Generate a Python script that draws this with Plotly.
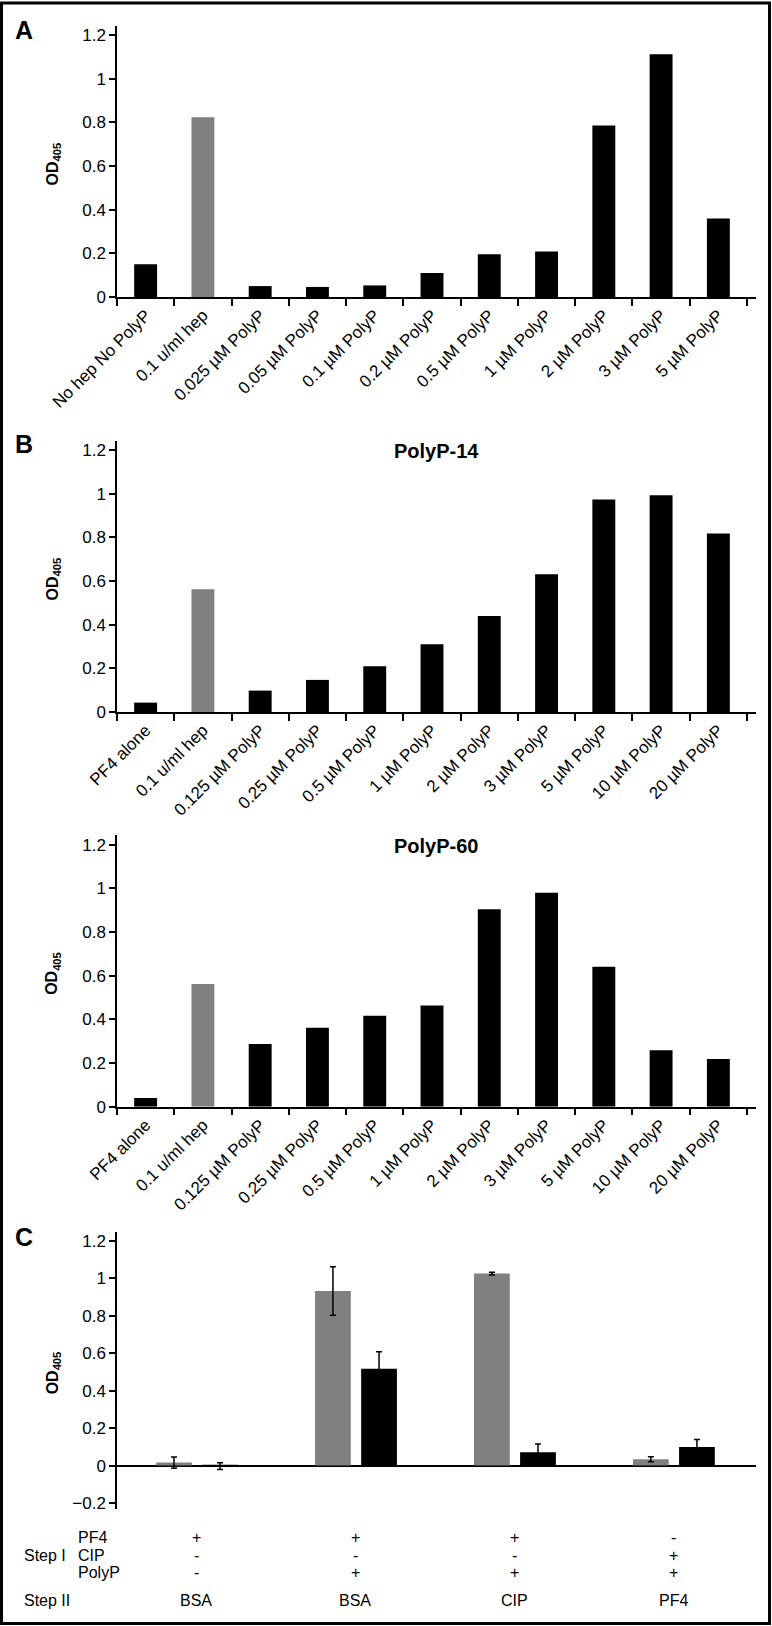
import plotly.graph_objects as go

# ---------------- data ----------------
a_categories = ["No hep No PolyP", "0.1 u/ml hep", "0.025 µM PolyP", "0.05 µM PolyP",
                "0.1 µM PolyP", "0.2 µM PolyP", "0.5 µM PolyP", "1 µM PolyP",
                "2 µM PolyP", "3 µM PolyP", "5 µM PolyP"]
a_values = [0.150, 0.823, 0.050, 0.046, 0.053, 0.110, 0.196, 0.208, 0.785, 1.112, 0.359]

b_categories = ["PF4 alone", "0.1 u/ml hep", "0.125 µM PolyP", "0.25 µM PolyP",
                "0.5 µM PolyP", "1 µM PolyP", "2 µM PolyP", "3 µM PolyP",
                "5 µM PolyP", "10 µM PolyP", "20 µM PolyP"]
b14_values = [0.043, 0.562, 0.098, 0.147, 0.209, 0.310, 0.440, 0.631, 0.973, 0.993, 0.818]
b60_values = [0.040, 0.562, 0.287, 0.362, 0.417, 0.463, 0.904, 0.980, 0.641, 0.258, 0.218]

c_groups = [0, 1, 2, 3]
c_gray_values = [0.016, 0.933, 1.026, 0.034]
c_gray_errors = [0.030, 0.130, 0.007, 0.013]
c_black_values = [-0.003, 0.518, 0.071, 0.100]
c_black_errors = [0.018, 0.090, 0.045, 0.040]

table_rows = ["PF4", "CIP", "PolyP"]
table_pf4 = ["+", "+", "+", "-"]
table_cip = ["-", "-", "-", "+"]
table_polyp = ["-", "+", "+", "+"]
step2_labels = ["BSA", "BSA", "CIP", "PF4"]

titles_b = ["PolyP-14", "PolyP-60"]
highlight_category = "0.1 u/ml hep"

# ---------------- styling / layout helpers ----------------
W, H = 772, 1626
GRAY = "#808080"
BLACK = "#000000"
FONT = "Liberation Sans, Arial, Helvetica, sans-serif"


def px_x(x):
    return x / W


def px_y(y):
    return 1 - y / H


X0, X1 = 117, 756

fig = go.Figure()


def bar_colors(cats):
    return [GRAY if c == highlight_category else BLACK for c in cats]


panels = [
    dict(cats=a_categories, vals=a_values, top=26, bottom=297, xa="x", ya="y"),
    dict(cats=b_categories, vals=b14_values, top=441, bottom=712, xa="x2", ya="y2"),
    dict(cats=b_categories, vals=b60_values, top=835, bottom=1106.7, xa="x3", ya="y3"),
]

for p in panels:
    fig.add_trace(go.Bar(x=p["cats"], y=p["vals"], marker=dict(color=bar_colors(p["cats"]), line=dict(width=0)),
                         width=0.4, xaxis=p["xa"], yaxis=p["ya"], showlegend=False, hoverinfo="x+y"))

# panel C
fig.add_trace(go.Bar(x=c_groups, y=c_gray_values, marker=dict(color=GRAY, line=dict(width=0)),
                     width=0.225, offset=-0.254,
                     error_y=dict(type="data", array=c_gray_errors, color=BLACK, thickness=1.5, width=3),
                     xaxis="x4", yaxis="y4", showlegend=False))
fig.add_trace(go.Bar(x=c_groups, y=c_black_values, marker=dict(color=BLACK, line=dict(width=0)),
                     width=0.225, offset=0.036,
                     error_y=dict(type="data", array=c_black_errors, color=BLACK, thickness=1.5, width=3),
                     xaxis="x4", yaxis="y4", showlegend=False))

layout = dict(
    width=W, height=H, margin=dict(l=0, r=0, t=0, b=0, autoexpand=False),
    paper_bgcolor="white", plot_bgcolor="white",
    font=dict(family=FONT, color=BLACK, size=15),
    barmode="overlay",
)

ytick_common = dict(showline=True, linewidth=1.5, linecolor=BLACK, ticks="outside", ticklen=6,
                    tickwidth=1.5, tickcolor=BLACK, showgrid=False, zeroline=False, automargin=False,
                    tickfont=dict(size=17), dtick=0.2, tick0=0)
xtick_common = dict(showline=True, linewidth=1.5, linecolor=BLACK, ticks="outside", ticklen=7,
                    tickwidth=1.5, tickcolor=BLACK, showgrid=False, tickson="boundaries", automargin=False,
                    tickangle=-45, tickfont=dict(size=17), type="category")

names = ["", "2", "3"]
for p, n in zip(panels, names):
    layout["xaxis" + n] = dict(xtick_common, domain=[px_x(X0), px_x(X1)], anchor="y" + n,
                               range=[-0.5, 10.5 + 9 / 57.3])
    rng_top = (p["bottom"] - p["top"]) / 218.33
    layout["yaxis" + n] = dict(ytick_common, domain=[px_y(p["bottom"]), px_y(p["top"])],
                               anchor="x" + n, range=[0, rng_top])

layout["xaxis4"] = dict(domain=[px_x(X0), px_x(X1)], anchor="y4", range=[-0.5, 3.5 + 0.02], automargin=False,
                        showline=False, showticklabels=False, ticks="", showgrid=False, zeroline=False)
layout["yaxis4"] = dict(ytick_common, domain=[px_y(1509), px_y(1231.7)], anchor="x4",
                        range=[-0.232, 1.25], zeroline=True, zerolinecolor=BLACK, zerolinewidth=2)

annotations = []
# y-axis titles
for top, bottom in [(26, 297), (441, 712), (835, 1106.7), (1231.7, 1509)]:
    annotations.append(dict(text="<b>OD<sub>405</sub></b>", x=px_x(53), y=px_y((top + bottom) / 2 + 2),
                            xref="paper", yref="paper", textangle=-90, showarrow=False,
                            font=dict(size=16), xanchor="center", yanchor="middle"))
# panel letters
for letter, yc in [("A", 30), ("B", 444), ("C", 1237)]:
    annotations.append(dict(text="<b>" + letter + "</b>", x=px_x(13), y=px_y(yc), xref="paper", yref="paper",
                            showarrow=False, font=dict(size=25), xanchor="left", yanchor="middle"))
# titles for B
for t, yc in zip(titles_b, [451, 846]):
    annotations.append(dict(text="<b>" + t + "</b>", x=px_x(436), y=px_y(yc), xref="paper",
                            yref="paper", showarrow=False, font=dict(size=20), xanchor="center",
                            yanchor="middle"))
# table under C
row_y = [1537, 1555, 1572]
for name, yc in zip(table_rows, row_y):
    annotations.append(dict(text=name, x=px_x(76), y=px_y(yc), xref="paper", yref="paper", showarrow=False,
                            font=dict(size=16), xanchor="left", yanchor="middle"))
annotations.append(dict(text="Step I", x=px_x(22), y=px_y(1555), xref="paper", yref="paper",
                        showarrow=False, font=dict(size=16), xanchor="left", yanchor="middle"))
annotations.append(dict(text="Step II", x=px_x(22), y=px_y(1600), xref="paper", yref="paper",
                        showarrow=False, font=dict(size=16), xanchor="left", yanchor="middle"))
for vals, yc in zip([table_pf4, table_cip, table_polyp], row_y):
    for g, v in zip(c_groups, vals):
        annotations.append(dict(text=v, x=g, y=px_y(yc), xref="x4", yref="paper", showarrow=False,
                                font=dict(size=16), xanchor="center", yanchor="middle"))
for g, v in zip(c_groups, step2_labels):
    annotations.append(dict(text=v, x=g, y=px_y(1600), xref="x4", yref="paper", showarrow=False,
                            font=dict(size=16), xanchor="center", yanchor="middle"))

layout["annotations"] = annotations
layout["shapes"] = [dict(type="rect", xref="paper", yref="paper", x0=px_x(1.5), x1=px_x(769.5),
                         y0=px_y(1623.5), y1=px_y(3), line=dict(color=BLACK, width=3))]

fig.update_layout(**layout)
fig.write_html("out.html", config={"displayModeBar": False},
               post_script="document.body.style.margin='0px';document.body.style.overflow='hidden';")
